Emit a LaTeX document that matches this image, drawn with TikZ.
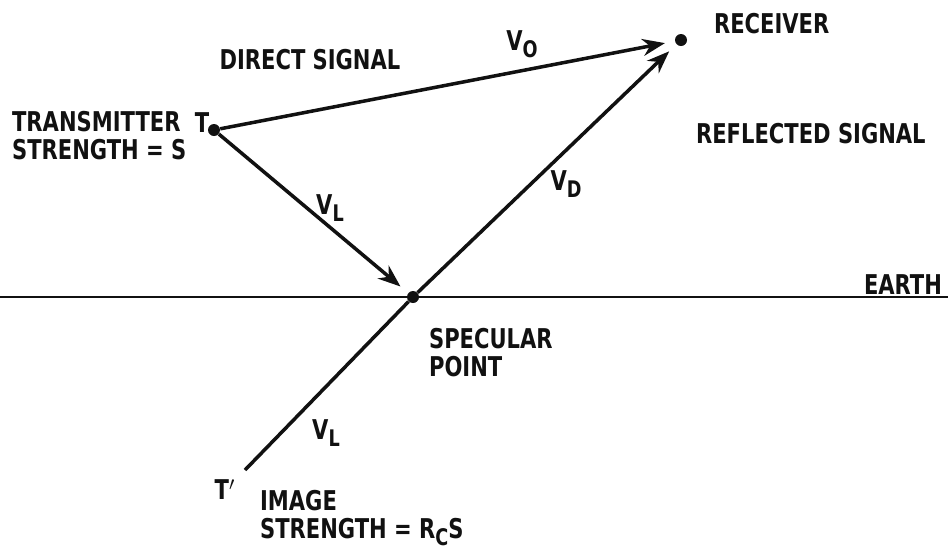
\documentclass[tikz,border=0pt]{standalone}
\usepackage{fontspec}
\setmainfont{DejaVu Sans Condensed}[FakeStretch=0.86]
\usepackage{xcolor}
\usetikzlibrary{arrows.meta,positioning}
\definecolor{ink}{HTML}{111111}
\newcommand{\vsub}[2]{#1\raisebox{-0.5ex}{\fontsize{13}{13}\selectfont #2}}
\tikzset{
  lbl/.style={font=\fontsize{15.5}{17}\selectfont\bfseries,text=ink,inner sep=1pt},
  pt/.style={circle,fill=ink,inner sep=0pt,minimum size=0.24cm},
  sigarr/.style={-{Stealth[length=4.5mm,width=3.4mm]},line width=2pt,draw=ink,shorten >=0.2cm},
  sigline/.style={line width=2pt,draw=ink},
  earthline/.style={line width=1.3pt,draw=ink}
}
\begin{document}
\begin{tikzpicture}[x=0.02cm,y=-0.02cm]
  \useasboundingbox (0,0) rectangle (948,559);
  % points
  \node[pt] (tx) at (214,130) {};
  \node[pt] (rx) at (681,40) {};
  \node[pt] (sp) at (413,297) {};
  \coordinate (img) at (245,470);
  \coordinate (eL) at (0,297);
  \coordinate (eR) at (948,297);
  % earth
  \draw[earthline] (eL) -- (eR);
  % signal paths
  \draw[sigarr] (tx) -- (rx);
  \draw[sigarr] (tx) -- (sp);
  \draw[sigarr] (sp) -- (rx);
  \draw[sigline] (img) -- (sp);
  % labels
  \node[lbl] (ltx) at (202,123) {T};
  \node[lbl,anchor=base west] (ltrans) at (10,131) {TRANSMITTER};
  \node[lbl,anchor=base west] (lstrs) at (10,159) {STRENGTH = S};
  \node[lbl] (ldir) at (310,60) {DIRECT SIGNAL};
  \node[lbl] (lvo) at (522,44) {\vsub{V}{O}};
  \node[lbl,anchor=west] (lrx) at (712,24) {RECEIVER};
  \node[lbl,anchor=west] (lref) at (694,134) {REFLECTED SIGNAL};
  \node[lbl] (lvl) at (330,208) {\vsub{V}{L}};
  \node[lbl] (lvd) at (566,184) {\vsub{V}{D}};
  \node[lbl,anchor=east] (lear) at (944,285) {EARTH};
  \node[lbl,anchor=base west] (lspec) at (427,348) {SPECULAR};
  \node[lbl,anchor=base west] (lpnt) at (427,376) {POINT};
  \node[lbl] (lvl2) at (326,433) {\vsub{V}{L}};
  \node[lbl] (limg) at (225,490) {T$'$};
  \node[lbl,anchor=base west] (limage) at (258,510) {IMAGE};
  \node[lbl,anchor=base west] (lstr) at (258,538) {STRENGTH = \vsub{R}{C}S};
\end{tikzpicture}
\end{document}
